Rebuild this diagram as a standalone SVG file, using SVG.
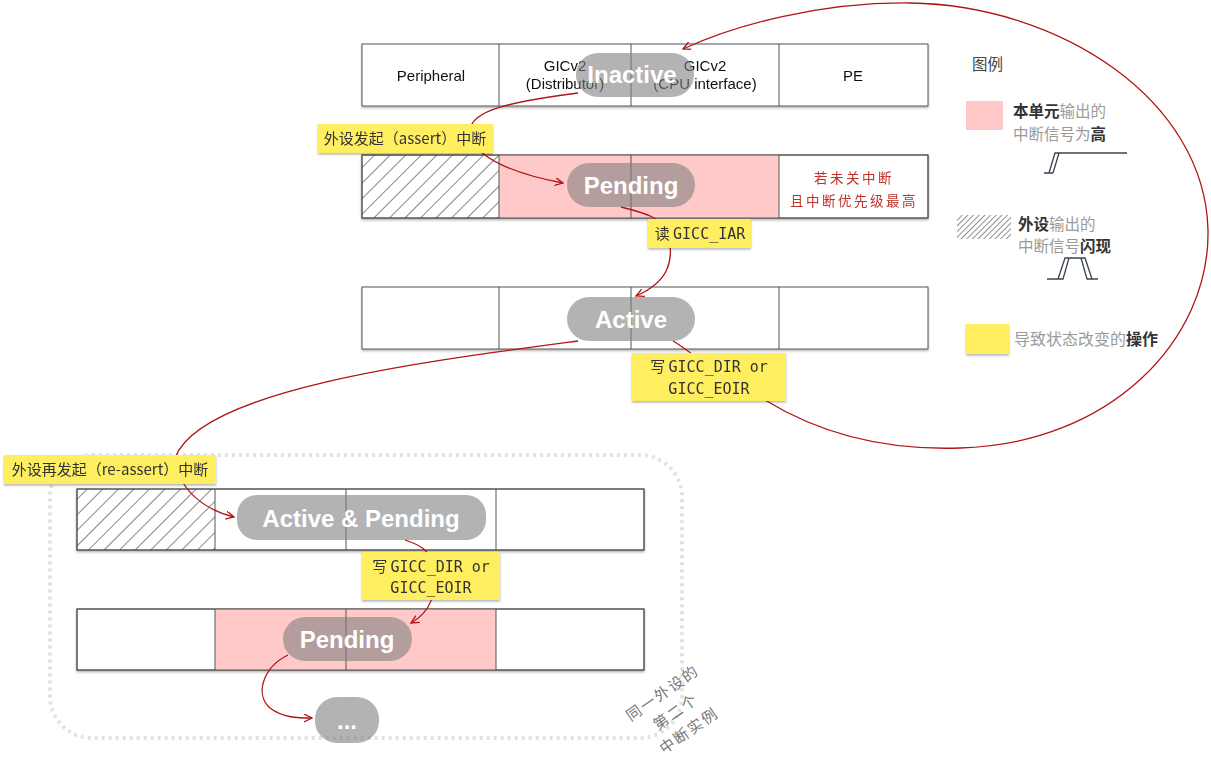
<svg xmlns="http://www.w3.org/2000/svg" width="1211" height="766" viewBox="0 0 1211 766">
<style>
.cell{fill:#fff;stroke:#555;stroke-width:1}
.pink{fill:#ffc9c9}
.div{stroke:#555;stroke-width:1}
.lbl{font-family:"Liberation Sans",Arial,sans-serif;font-size:15px;fill:#111;text-anchor:middle}
.pill{fill:#808080;fill-opacity:.6}
.pt{font-family:"Liberation Sans",Arial,sans-serif;font-weight:bold;font-size:24px;fill:#fff;text-anchor:middle}
.note{fill:#ffee60}
.nt{font-family:"Noto Sans CJK SC",sans-serif;font-size:15px;fill:#333;text-anchor:middle}
.mono{font-family:"DejaVu Sans Mono","Liberation Mono",monospace;font-size:15px}
.conn{fill:none;stroke:#b01515;stroke-width:1.3}
.lg{font-family:"Noto Sans CJK SC",sans-serif;font-size:15.5px;fill:#9a9a9a}
.lgb{fill:#333;font-weight:bold}
.sig{fill:none;stroke:#3a4450;stroke-width:1.3}
</style>
<defs>
<pattern id="hatch" width="11" height="11" patternUnits="userSpaceOnUse" patternTransform="rotate(45)">
<line x1="0" y1="0" x2="0" y2="11" stroke="#111" stroke-width="1"/>
</pattern>
<pattern id="hatch2" width="4" height="4" patternUnits="userSpaceOnUse" patternTransform="rotate(45)">
<line x1="0" y1="0" x2="0" y2="4" stroke="#222" stroke-width="1"/>
</pattern>
<filter id="sh" x="-5%" y="-10%" width="110%" height="130%">
<feDropShadow dx="0" dy="1.5" stdDeviation="1" flood-color="#000" flood-opacity="0.3"/>
</filter>
<marker id="arr" markerWidth="10" markerHeight="10" refX="8" refY="4" orient="auto" markerUnits="userSpaceOnUse">
<path d="M0,0 L8,4 L0,8" fill="none" stroke="#b01515" stroke-width="1.3"/>
</marker>
</defs>
<rect width="1211" height="766" fill="#fff"/>

<!-- dotted container -->
<rect id="group-box" x="50" y="455" width="632" height="283" rx="42" fill="none" stroke="#e2e2e2" stroke-width="4" stroke-dasharray="3 4"/>

<!-- Row 1 -->
<g id="row1" filter="url(#sh)">
<rect class="cell" x="362" y="44" width="566" height="62"/>
<line class="div" x1="499" y1="44" x2="499" y2="106"/>
<line class="div" x1="631" y1="44" x2="631" y2="106"/>
<line class="div" x1="779" y1="44" x2="779" y2="106"/>
<text class="lbl" x="431" y="81">Peripheral</text>
<text class="lbl" x="565" y="71">GICv2</text>
<text class="lbl" x="565" y="89">(Distributor)</text>
<text class="lbl" x="705" y="71">GICv2</text>
<text class="lbl" x="705" y="89">(CPU interface)</text>
<text class="lbl" x="853" y="81">PE</text>
</g>

<!-- Row 2 -->
<g id="row2" filter="url(#sh)">
<rect class="cell" x="362" y="155" width="566" height="63"/>
<rect fill="url(#hatch)" x="362" y="155" width="137" height="63"/>
<rect class="pink" x="499" y="155" width="280" height="63"/>
<rect x="362" y="155" width="566" height="63" fill="none" stroke="#555"/>
<line class="div" x1="499" y1="155" x2="499" y2="218"/>
<line class="div" x1="631" y1="155" x2="631" y2="218"/>
<line class="div" x1="779" y1="155" x2="779" y2="218"/>
<text x="854" y="183" font-family="Noto Sans CJK SC,sans-serif" font-size="13.5" fill="#c0302a" text-anchor="middle" letter-spacing="2.5">若未关中断</text>
<text x="854" y="206" font-family="Noto Sans CJK SC,sans-serif" font-size="13.5" fill="#c0302a" text-anchor="middle" letter-spacing="2.5">且中断优先级最高</text>
</g>

<!-- Row 3 -->
<g id="row3" filter="url(#sh)">
<rect class="cell" x="362" y="287" width="566" height="62"/>
<line class="div" x1="499" y1="287" x2="499" y2="349"/>
<line class="div" x1="631" y1="287" x2="631" y2="349"/>
<line class="div" x1="779" y1="287" x2="779" y2="349"/>
</g>

<!-- Row 4 -->
<g id="row4" filter="url(#sh)">
<rect class="cell" x="77" y="489" width="567" height="61"/>
<rect fill="url(#hatch)" x="77" y="489" width="138" height="61"/>
<rect x="77" y="489" width="567" height="61" fill="none" stroke="#555"/>
<line class="div" x1="215" y1="489" x2="215" y2="550"/>
<line class="div" x1="346" y1="489" x2="346" y2="550"/>
<line class="div" x1="496" y1="489" x2="496" y2="550"/>
</g>

<!-- Row 5 -->
<g id="row5" filter="url(#sh)">
<rect class="cell" x="77" y="609" width="567" height="61"/>
<rect class="pink" x="215" y="609" width="281" height="61"/>
<rect x="77" y="609" width="567" height="61" fill="none" stroke="#555"/>
<line class="div" x1="215" y1="609" x2="215" y2="670"/>
<line class="div" x1="346" y1="609" x2="346" y2="670"/>
<line class="div" x1="496" y1="609" x2="496" y2="670"/>
</g>

<!-- connectors -->
<g id="connectors">
<path class="conn" d="M578,93 C510,102 472,110 470,130 C470,160 525,176 563,183" marker-end="url(#arr)"/>
<path class="conn" d="M621,207 C645,213 662,218 668,232 C675,262 668,282 636,296" marker-end="url(#arr)"/>
<path class="conn" d="M673,341 C685,348 700,360 720,375 C735,388 750,395 765,400 C830,440 900,450 960,448 C1110,444 1210,340 1208,230 C1205,100 1060,5 910,3 C820,2 735,25 683,49" marker-end="url(#arr)"/>
<path class="conn" d="M578,341 C420,362 200,390 175,458 C178,490 205,510 234,517" marker-end="url(#arr)"/>
<path class="conn" d="M405,540 C420,545 430,550 432,565 C438,595 430,612 411,623" marker-end="url(#arr)"/>
<path class="conn" d="M288,655 C262,668 255,695 270,708 C283,718 298,718 312,718" marker-end="url(#arr)"/>
</g>

<!-- state pills -->
<g id="inactive"><rect class="pill" x="576" y="53" width="118" height="44" rx="22"/><text class="pt" x="632" y="83">Inactive</text></g>
<g id="pending1"><rect class="pill" x="567" y="163" width="128" height="44" rx="22"/><text class="pt" x="631" y="194">Pending</text></g>
<g id="active"><rect class="pill" x="567" y="297" width="128" height="44" rx="22"/><text class="pt" x="631" y="328">Active</text></g>
<g id="activepending"><rect class="pill" x="237" y="495" width="249" height="45" rx="20"/><text class="pt" x="361" y="527">Active &amp; Pending</text></g>
<g id="pending2"><rect class="pill" x="283" y="617" width="129" height="44" rx="22"/><text class="pt" x="347" y="648">Pending</text></g>
<g id="more"><rect class="pill" x="315" y="697" width="64" height="46" rx="22"/><text class="pt" x="347" y="729" font-size="20">...</text></g>

<!-- operation notes -->
<g id="note-assert" filter="url(#sh)"><rect class="note" x="318" y="124" width="175" height="29"/><text class="nt" x="405" y="144">外设发起（assert）中断</text></g>
<g id="note-iar" filter="url(#sh)"><rect class="note" x="648" y="219" width="103" height="29"/><text class="nt" x="700" y="239">读 <tspan class="mono">GICC_IAR</tspan></text></g>
<g id="note-dir1" filter="url(#sh)"><rect class="note" x="632" y="353" width="154" height="48"/><text class="nt" x="709" y="372">写 <tspan class="mono">GICC_DIR or</tspan></text><text class="nt mono" x="709" y="394">GICC_EOIR</text></g>
<g id="note-reassert" filter="url(#sh)"><rect class="note" x="4" y="455" width="212" height="29"/><text class="nt" x="110" y="475">外设再发起（re-assert）中断</text></g>
<g id="note-dir2" filter="url(#sh)"><rect class="note" x="362" y="552" width="138" height="48"/><text class="nt" x="431" y="572">写 <tspan class="mono">GICC_DIR or</tspan></text><text class="nt mono" x="431" y="593">GICC_EOIR</text></g>

<!-- rotated annotation -->
<g id="annotation" transform="rotate(-35 676 712)" font-family="Noto Sans CJK SC,sans-serif" font-size="15" fill="#777" text-anchor="middle" letter-spacing="2">
<text x="676" y="694">同一外设的</text>
<text x="676" y="717">第二个</text>
<text x="676" y="740">中断实例</text>
</g>

<!-- legend -->
<g id="legend">
<text class="lg" x="972" y="70" style="fill:#444">图例</text>
<rect x="966" y="101" width="37" height="29" fill="#ffc9c9"/>
<text class="lg" x="1013" y="117"><tspan class="lgb">本单元</tspan>输出的</text>
<text class="lg" x="1013" y="140">中断信号为<tspan class="lgb">高</tspan></text>
<path class="sig" d="M1044,173 L1049,173 L1055,153 L1127,153 M1053,173 L1059,153 M1049,173 L1053,173 M1055,153 L1059,153"/>
<rect x="957" y="215" width="54" height="24" fill="url(#hatch2)"/>
<text class="lg" x="1018" y="230"><tspan class="lgb">外设</tspan>输出的</text>
<text class="lg" x="1018" y="252">中断信号<tspan class="lgb">闪现</tspan></text>
<path class="sig" d="M1047,279 L1058,279 L1065,258 L1085,258 L1092,279 L1098,279 M1058,279 L1063,279 L1069,258 M1081,258 L1087,279 L1092,279"/>
<rect x="966" y="324" width="43" height="30" fill="#ffee60" filter="url(#sh)"/>
<text class="lg" x="1014" y="345" style="font-size:16px">导致状态改变的<tspan class="lgb">操作</tspan></text>
</g>
</svg>
